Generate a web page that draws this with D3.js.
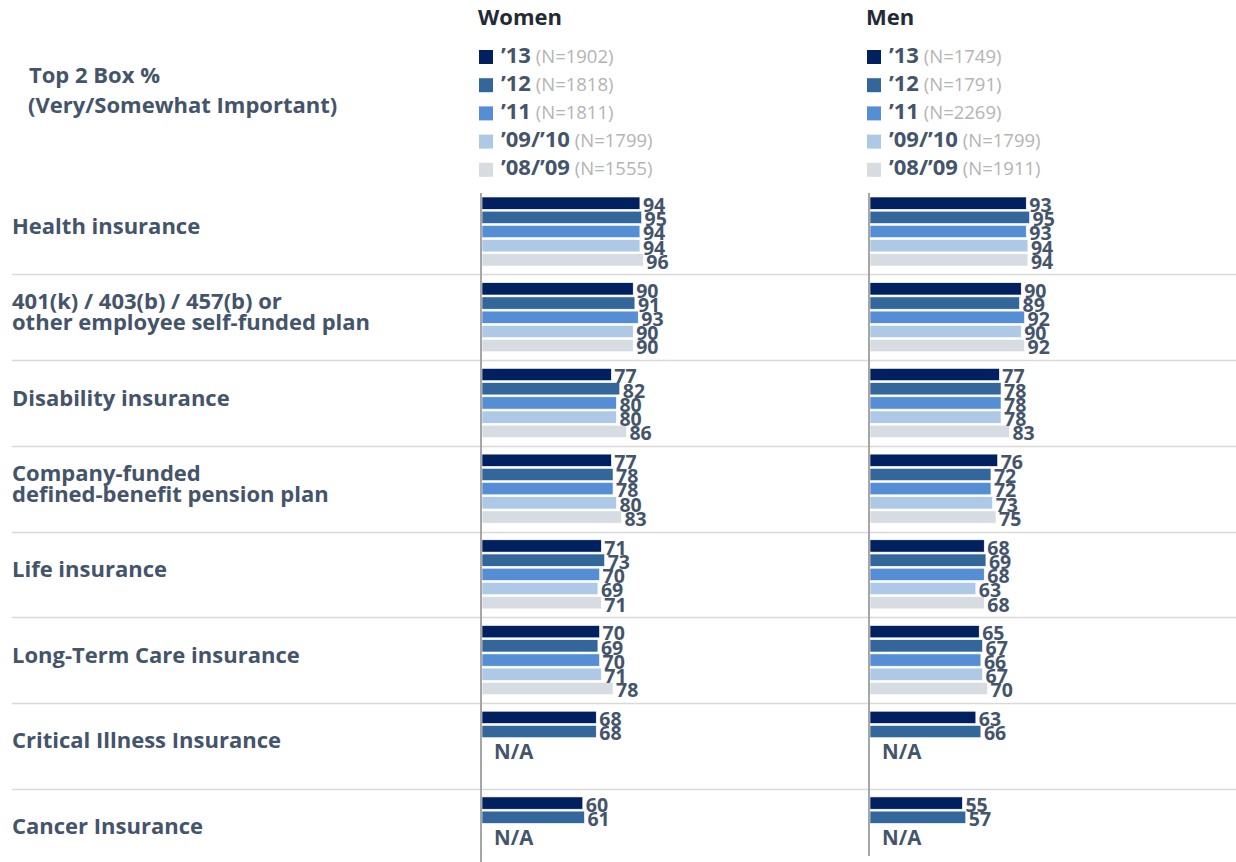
<!DOCTYPE html>
<html>
<head>
<meta charset="utf-8">
<script src="https://cdn.jsdelivr.net/npm/d3@7"></script>
<style>
  html, body { margin: 0; padding: 0; background: #ffffff; }
  svg { display: block; }
  text { font-family: "Open Sans", "Noto Sans", sans-serif; }
</style>
</head>
<body>
<svg id="chart" width="1236" height="862"></svg>
<script>
// ---------------- DATA ----------------
const categories = [
  ["Health insurance"],
  ["401(k) / 403(b) / 457(b) or", "other employee self-funded plan"],
  ["Disability insurance"],
  ["Company-funded", "defined-benefit pension plan"],
  ["Life insurance"],
  ["Long-Term Care insurance"],
  ["Critical Illness Insurance"],
  ["Cancer Insurance"]
];
const series = ["\u201913", "\u201912", "\u201911", "\u201909/\u201910", "\u201908/\u201909"];
const womenN = [1902, 1818, 1811, 1799, 1555];
const menN   = [1749, 1791, 2269, 1799, 1911];

// values per series, in category order (null = N/A)
const women13  = [94, 90, 77, 77, 71, 70, 68, 60];
const women12  = [95, 91, 82, 78, 73, 69, 68, 61];
const women11  = [94, 93, 80, 78, 70, 70, null, null];
const women0910 = [94, 90, 80, 80, 69, 71, null, null];
const women0809 = [96, 90, 86, 83, 71, 78, null, null];

const men13  = [93, 90, 77, 76, 68, 65, 63, 55];
const men12  = [95, 89, 78, 72, 69, 67, 66, 57];
const men11  = [93, 92, 78, 72, 68, 66, null, null];
const men0910 = [94, 90, 78, 73, 63, 67, null, null];
const men0809 = [94, 92, 83, 75, 68, 70, null, null];

const colors = ["#002060", "#33669a", "#558ed5", "#adc9e5", "#d7dce3"];

// ---------------- LAYOUT ----------------
const svg = d3.select("#chart");
const labelColor = "#44546a";
const catKeys = categories.map((c, i) => "c" + i);

const yGroup = d3.scaleBand().domain(catKeys).range([197, 866]).paddingInner(0.194).paddingOuter(0);
const ySeries = d3.scaleBand().domain(series).range([0, yGroup.bandwidth()]).paddingInner(0.134).paddingOuter(0);

const panels = [
  { title: "Women", ns: womenN, data: [women13, women12, women11, women0910, women0809],
    x: d3.scaleLinear().domain([0, 100]).range([482, 650]), legendX: 479, axisBottom: 862 },
  { title: "Men", ns: menN, data: [men13, men12, men11, men0910, men0809],
    x: d3.scaleLinear().domain([0, 100]).range([870, 1038]), legendX: 867, axisBottom: 856 }
];

// top-left caption
svg.append("text").attr("x", 29).attr("y", 75).attr("dy", "0.35em")
  .attr("font-size", 22).attr("font-weight", 700).attr("fill", labelColor).text("Top 2 Box %");
svg.append("text").attr("x", 28).attr("y", 105).attr("dy", "0.35em")
  .attr("font-size", 22).attr("font-weight", 700).attr("fill", labelColor).text("(Very/Somewhat Important)");

// separators between categories
const gap = yGroup.step() - yGroup.bandwidth();
svg.append("g").selectAll("line").data(catKeys.slice(1)).join("line")
  .attr("x1", 12).attr("x2", 1236)
  .attr("y1", d => Math.round(yGroup(d) - gap / 2) + 0.5)
  .attr("y2", d => Math.round(yGroup(d) - gap / 2) + 0.5)
  .attr("stroke", "#d9d9d9").attr("stroke-width", 1.5);

// category labels
const catG = svg.append("g");
categories.forEach((lines, i) => {
  const cy = yGroup(catKeys[i]) + yGroup.bandwidth() / 2 - 5;
  const lh = 21;
  const t = catG.append("text").attr("x", 12)
    .attr("font-size", 22).attr("font-weight", 700).attr("fill", labelColor);
  lines.forEach((ln, j) => {
    t.append("tspan").attr("x", 12)
      .attr("y", cy + (j - (lines.length - 1) / 2) * lh)
      .attr("dy", "0.35em").text(ln);
  });
});

// panels
panels.forEach(p => {
  const g = svg.append("g");
  // title
  g.append("text").attr("x", p.legendX - 1).attr("y", 17).attr("dy", "0.35em")
    .attr("font-size", 22).attr("font-weight", 700).attr("fill", "#222a35").text(p.title);

  // legend
  series.forEach((s, k) => {
    const cy = 57 + k * 28.2;
    g.append("rect").attr("x", p.legendX).attr("y", cy - 7).attr("width", 14).attr("height", 14)
      .attr("fill", colors[k]);
    const t = g.append("text").attr("x", p.legendX + 22).attr("y", cy).attr("dy", "0.35em");
    t.append("tspan").attr("font-size", 22).attr("font-weight", 700).attr("fill", labelColor).text(s);
    t.append("tspan").attr("font-size", 18.5).attr("font-weight", 400).attr("fill", "#b4b4b4")
      .text(" (N=" + p.ns[k] + ")");
  });

  // bars
  const rows = [];
  p.data.forEach((arr, k) => arr.forEach((v, i) => { if (v != null) rows.push({ k, i, v }); }));
  g.append("g").selectAll("rect").data(rows).join("rect")
    .attr("x", p.x(0))
    .attr("y", d => yGroup(catKeys[d.i]) + ySeries(series[d.k]))
    .attr("width", d => p.x(d.v) - p.x(0))
    .attr("height", ySeries.bandwidth())
    .attr("fill", d => colors[d.k])
    .attr("stroke", "#ffffff").attr("stroke-width", 0.6);

  // value labels
  g.append("g").selectAll("text").data(rows).join("text")
    .attr("x", d => p.x(d.v) + 3)
    .attr("y", d => yGroup(catKeys[d.i]) + ySeries(series[d.k]) + ySeries.bandwidth() / 2 + 2)
    .attr("dy", "0.35em")
    .attr("font-size", 19.5).attr("font-weight", 700).attr("fill", labelColor)
    .text(d => d.v);

  // N/A labels for categories missing later series
  categories.forEach((c, i) => {
    const missing = p.data.some(arr => arr[i] == null);
    if (missing) {
      g.append("text").attr("x", p.x(0) + 12)
        .attr("y", yGroup(catKeys[i]) + ySeries(series[2]) + ySeries.bandwidth())
        .attr("dy", "0.35em")
        .attr("font-size", 20.5).attr("font-weight", 700).attr("fill", labelColor).text("N/A");
    }
  });

  // vertical axis line
  g.append("line").attr("x1", p.x(0) - 1).attr("x2", p.x(0) - 1)
    .attr("y1", 193).attr("y2", p.axisBottom)
    .attr("stroke", "#a6a6a6").attr("stroke-width", 2);
});
</script>
</body>
</html>
